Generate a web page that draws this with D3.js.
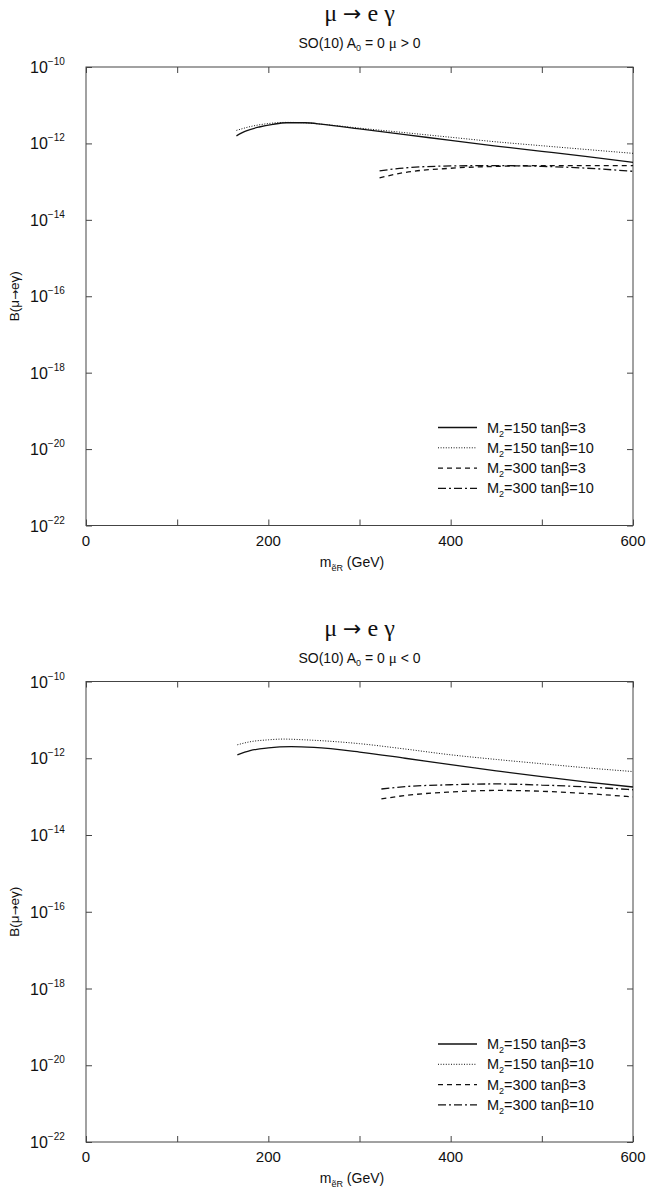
<!DOCTYPE html>
<html>
<head>
<meta charset="utf-8">
<script src="https://cdn.jsdelivr.net/npm/d3@7"></script>
<style>
  html, body { margin: 0; padding: 0; background: #fff; }
  svg { display: block; }
  .sans { font-family: "Liberation Sans", Arial, sans-serif; }
  .serif { font-family: "Liberation Serif", "Times New Roman", serif; }
  .arrow { font-family: "DejaVu Sans", sans-serif; }
</style>
</head>
<body>
<svg id="chart" width="649" height="1191"></svg>
<script>
// Slepton mass m_eR (GeV) and branching ratio B(mu -> e gamma)
// ---- mu > 0 ----
const posM150t3x = [165, 175, 190, 205, 220, 240, 260, 300, 350, 400, 450, 500, 550, 600];
const posM150t3y = [1.58e-12, 2.09e-12, 2.69e-12, 3.16e-12, 3.47e-12, 3.47e-12, 3.16e-12, 2.40e-12, 1.70e-12, 1.20e-12, 8.5e-13, 6.2e-13, 4.5e-13, 3.2e-13];
const posM150t10x = [165, 180, 200, 220, 240, 260, 300, 350, 400, 450, 500, 550, 600];
const posM150t10y = [2.19e-12, 2.75e-12, 3.31e-12, 3.55e-12, 3.47e-12, 3.16e-12, 2.51e-12, 1.91e-12, 1.45e-12, 1.10e-12, 8.7e-13, 6.9e-13, 5.5e-13];
const posM300t3x = [322, 350, 400, 450, 500, 550, 600];
const posM300t3y = [1.26e-13, 1.74e-13, 2.24e-13, 2.51e-13, 2.63e-13, 2.63e-13, 2.63e-13];
const posM300t10x = [322, 350, 400, 450, 500, 550, 600];
const posM300t10y = [1.91e-13, 2.29e-13, 2.57e-13, 2.63e-13, 2.51e-13, 2.24e-13, 1.86e-13];

// ---- mu < 0 ----
const negM150t3x = [166, 180, 200, 225, 250, 300, 350, 400, 450, 500, 550, 600];
const negM150t3y = [1.23e-12, 1.58e-12, 1.86e-12, 2.00e-12, 1.91e-12, 1.45e-12, 1.00e-12, 6.8e-13, 4.7e-13, 3.3e-13, 2.4e-13, 1.78e-13];
const negM150t10x = [166, 180, 200, 216, 240, 300, 350, 400, 450, 500, 550, 600];
const negM150t10y = [2.24e-12, 2.69e-12, 3.02e-12, 3.16e-12, 3.02e-12, 2.40e-12, 1.74e-12, 1.23e-12, 9.3e-13, 7.2e-13, 5.6e-13, 4.5e-13];
const negM300t3x = [324, 350, 400, 450, 500, 550, 600];
const negM300t3y = [8.7e-14, 1.07e-13, 1.32e-13, 1.45e-13, 1.38e-13, 1.20e-13, 9.8e-14];
const negM300t10x = [324, 350, 400, 450, 500, 550, 600];
const negM300t10y = [1.58e-13, 1.82e-13, 2.04e-13, 2.14e-13, 2.00e-13, 1.78e-13, 1.51e-13];

// Axes
const xDomain = [0, 600];
const xTicks = [0, 100, 200, 300, 400, 500, 600];
const xTickLabels = ["0", "", "200", "", "400", "", "600"];
const yDomain = [1e-22, 1e-10];
const yTickExps = [-10, -12, -14, -16, -18, -20, -22];

// Legend entries
const legendM2 = ["150", "150", "300", "300"];
const legendTanB = ["3", "10", "3", "10"];
const seriesDash = [null, "1,1.6", "5,4", "8,3,2,3"];

const svg = d3.select("#chart");

function zipSeries(xs, ys) { return xs.map((x, i) => ({ m: x, b: ys[i] })); }

function drawPanel(cfg) {
  const left = 86, right = 633;
  const top = cfg.top, bottom = cfg.bottom;
  const x = d3.scaleLinear().domain(xDomain).range([left, right]);
  const y = d3.scaleLog().domain(yDomain).range([bottom, top]);
  const g = svg.append("g");

  // Titles
  const cx = (left + right) / 2;
  const tt = g.append("text").attr("class", "serif")
    .attr("x", cx).attr("y", top - 46).attr("text-anchor", "middle")
    .attr("font-size", 24).attr("fill", "#111");
  tt.append("tspan").text("\u03bc ");
  tt.append("tspan").attr("class", "arrow").attr("font-size", 22).text("\u2192");
  tt.append("tspan").text(" e \u03b3");

  const st = g.append("text").attr("class", "sans")
    .attr("x", cx).attr("y", top - 19).attr("text-anchor", "middle")
    .attr("font-size", 14).attr("fill", "#111");
  st.append("tspan").text("SO(10)  A");
  st.append("tspan").attr("font-size", 9).attr("dy", 3).text("0");
  st.append("tspan").attr("dy", -3).text(" = 0  ");
  st.append("tspan").attr("class", "serif").attr("font-size", 15).text("\u03bc");
  st.append("tspan").text(cfg.sign);

  // Frame
  g.append("rect").attr("x", left).attr("y", top)
    .attr("width", right - left).attr("height", bottom - top)
    .attr("fill", "none").attr("stroke", "#444").attr("stroke-width", 1);

  // X ticks (inward, bottom and top)
  const xAxisB = d3.axisBottom(x).tickValues(xTicks).tickSize(-6).tickFormat("");
  const xAxisT = d3.axisTop(x).tickValues(xTicks).tickSize(-6).tickFormat("");
  const gxb = g.append("g").attr("transform", `translate(0,${bottom})`).call(xAxisB);
  const gxt = g.append("g").attr("transform", `translate(0,${top})`).call(xAxisT);
  [gxb, gxt].forEach(a => {
    a.select(".domain").remove();
    a.selectAll("line").attr("stroke", "#444");
  });
  // X tick labels
  g.selectAll(".xl").data(xTicks.filter((d, i) => xTickLabels[i] !== "")).enter()
    .append("text").attr("class", "sans")
    .attr("x", d => x(d)).attr("y", bottom + 20).attr("text-anchor", "middle")
    .attr("font-size", 15).attr("fill", "#111")
    .text(d => xTickLabels[xTicks.indexOf(d)]);

  // Y ticks (inward, left and right)
  const yTickVals = yTickExps.map(e => Math.pow(10, e));
  const yAxisL = d3.axisLeft(y).tickValues(yTickVals).tickSize(-6).tickFormat("");
  const yAxisR = d3.axisRight(y).tickValues(yTickVals).tickSize(-6).tickFormat("");
  const gyl = g.append("g").attr("transform", `translate(${left},0)`).call(yAxisL);
  const gyr = g.append("g").attr("transform", `translate(${right},0)`).call(yAxisR);
  [gyl, gyr].forEach(a => {
    a.select(".domain").remove();
    a.selectAll("line").attr("stroke", "#444");
  });
  // Y tick labels 10^n
  yTickExps.forEach(e => {
    const ty = y(Math.pow(10, e));
    const lt = g.append("text").attr("class", "sans")
      .attr("x", 30).attr("y", ty + 6).attr("font-size", 16).attr("fill", "#111");
    lt.append("tspan").text("10");
    lt.append("tspan").attr("font-size", 10).attr("dy", -8).text("\u2212" + Math.abs(e));
  });

  // Axis titles
  const xl = g.append("text").attr("class", "sans")
    .attr("x", 352).attr("y", bottom + 41).attr("text-anchor", "middle")
    .attr("font-size", 14).attr("fill", "#111");
  xl.append("tspan").text("m");
  xl.append("tspan").attr("font-size", 9).attr("dy", 4).text("\u1ebdR");
  xl.append("tspan").attr("dy", -4).text(" (GeV)");

  const yl = g.append("text").attr("class", "sans")
    .attr("transform", `translate(19,${(top + bottom) / 2}) rotate(-90)`)
    .attr("text-anchor", "middle").attr("font-size", 13.5).attr("fill", "#111");
  yl.append("tspan").text("B(\u03bc");
  yl.append("tspan").attr("class", "arrow").attr("font-size", 12).text("\u2192");
  yl.append("tspan").text("e\u03b3)");

  // Curves
  const line = d3.line().x(d => x(d.m)).y(d => y(d.b)).curve(d3.curveMonotoneX);
  cfg.series.forEach((s, i) => {
    g.append("path").datum(s)
      .attr("d", line).attr("fill", "none")
      .attr("stroke", "#111")
      .attr("stroke-width", i === 1 ? 1 : 1.3)
      .attr("stroke-dasharray", seriesDash[i]);
  });

  // Legend
  const lgTop = bottom - 98;
  legendM2.forEach((m2, i) => {
    const ly = lgTop + i * 20.3;
    g.append("line").attr("x1", 438).attr("x2", 477).attr("y1", ly).attr("y2", ly)
      .attr("stroke", "#111").attr("stroke-width", i === 1 ? 1 : 1.3)
      .attr("stroke-dasharray", seriesDash[i]);
    const tx = g.append("text").attr("class", "sans")
      .attr("x", 487).attr("y", ly + 5).attr("font-size", 14.5).attr("fill", "#111");
    tx.append("tspan").text("M");
    tx.append("tspan").attr("font-size", 9).attr("dy", 4).text("2");
    tx.append("tspan").attr("dy", -4).text("=" + m2 + " tan\u03b2=" + legendTanB[i]);
  });
}

drawPanel({
  top: 67, bottom: 525.5, sign: " > 0",
  series: [
    zipSeries(posM150t3x, posM150t3y),
    zipSeries(posM150t10x, posM150t10y),
    zipSeries(posM300t3x, posM300t3y),
    zipSeries(posM300t10x, posM300t10y)
  ]
});

drawPanel({
  top: 681.5, bottom: 1142, sign: " < 0",
  series: [
    zipSeries(negM150t3x, negM150t3y),
    zipSeries(negM150t10x, negM150t10y),
    zipSeries(negM300t3x, negM300t3y),
    zipSeries(negM300t10x, negM300t10y)
  ]
});
</script>
</body>
</html>
